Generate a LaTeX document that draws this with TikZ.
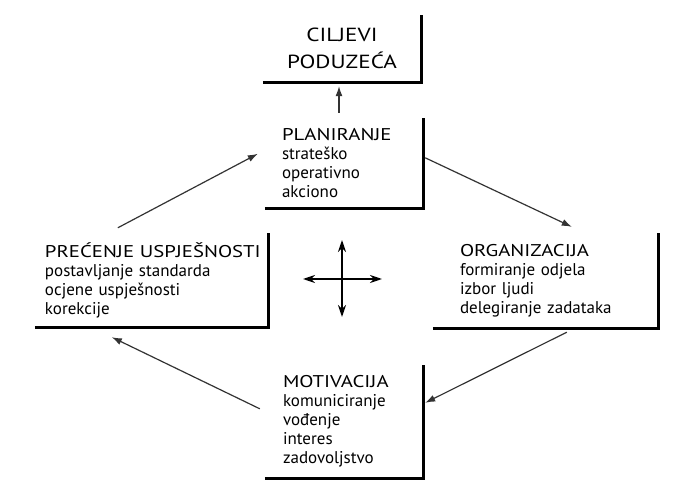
\documentclass[tikz,border=0pt]{standalone}
\usepackage{fontspec}
\setmainfont{PT Sans}
\newfontfamily\capfont[FakeStretch=1.22]{PT Sans}
\newcommand\ttl[1]{\mbox{\capfont #1}}
\usepackage{tikz}
\usetikzlibrary{positioning, arrows.meta}

\begin{document}
\begin{tikzpicture}[
x=1pt, y=-1pt,
box/.style={rectangle, inner ysep=0pt, align=left, font=\fontsize{17}{19}\selectfont, text=black},
frame/.style={line width=2.8pt, line join=miter},
arrow/.style={-{Latex[length=10pt, width=7pt]}, line width=1.2pt, black!80},
cross/.style={{Stealth[length=12pt, width=8pt]}-{Stealth[length=12pt, width=8pt]}, line width=1.6pt}
]
\useasboundingbox[fill=white] (0,0) rectangle (673,497);

% Goals
\node[box, align=center, minimum width=158pt, minimum height=67pt, font=\fontsize{19}{27}\selectfont] (cilj) at (342,48.5) {\ttl{CILJEVI}\\\ttl{PODUZEĆA}};

% Planning
\node[box, minimum width=158pt, minimum height=90pt, text width=124pt, inner xsep=17pt] (plan) at (344,163) {\ttl{PLANIRANJE}\\strateško\\operativno\\akciono};

% Control
\node[box, minimum width=233pt, minimum height=94pt, text width=213pt, inner xsep=10pt] (prac) at (151.5,280) {\ttl{PREĆENJE USPJEŠNOSTI}\\postavljanje standarda\\ocjene uspješnosti\\korekcije};

% Organisation
\node[box, minimum width=225pt, minimum height=95pt, text width=171pt, inner xsep=27pt] (org) at (545.5,280.5) {\ttl{ORGANIZACIJA}\\formiranje odjela\\izbor ljudi\\delegiranje zadataka};

% Motivation
\node[box, minimum width=158pt, minimum height=113pt, text width=122pt, inner xsep=18pt] (motiv) at (344,421.5) {\ttl{MOTIVACIJA}\\komuniciranje\\vođenje\\interes\\zadovoljstvo};

% open frames
\draw[frame] (cilj.south west) -- (cilj.south east) -- (cilj.north east);
\draw[frame] (plan.south west) -- (plan.south east) -- (plan.north east);
\draw[frame] (prac.south west) -- (prac.south east) -- (prac.north east);
\draw[frame] (org.south west) -- (org.south east) -- (org.north east);
\draw[frame] (motiv.south west) -- (motiv.south east) -- (motiv.north east);

% cycle
\draw[arrow] ([xshift=-5pt, yshift=5pt]plan.north) -- ([xshift=-3pt, yshift=-4pt]cilj.south);
\draw[arrow] ([xshift=83pt, yshift=5pt]prac.north west) -- ([xshift=-7pt, yshift=-36pt]plan.north west);
\draw[arrow] ([xshift=2pt, yshift=-40pt]plan.north east) -- ([xshift=139pt, yshift=6pt]org.north west);
\draw[arrow] ([xshift=134pt, yshift=-4pt]org.south west) -- ([xshift=2pt, yshift=-38pt]motiv.north east);
\draw[arrow] ([xshift=-5pt, yshift=-44pt]motiv.north west) -- ([xshift=77pt, yshift=-10pt]prac.south west);

% centre cross
\coordinate (mid) at (342,279);
\draw[cross] ([yshift=39pt]mid) -- ([yshift=-38pt]mid);
\draw[cross] ([xshift=-39pt]mid) -- ([xshift=40pt]mid);

\end{tikzpicture}
\end{document}
